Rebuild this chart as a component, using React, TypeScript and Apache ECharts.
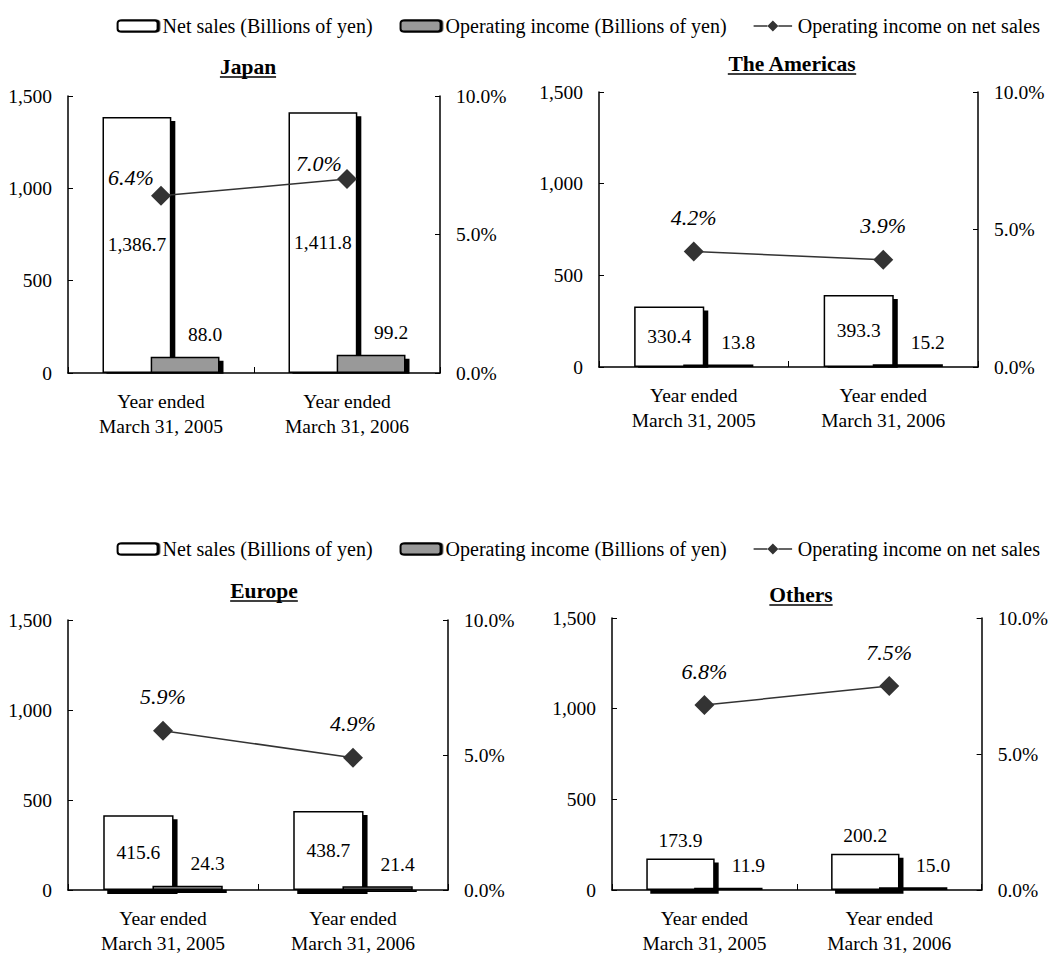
import React, { useEffect, useRef } from "react";
import * as echarts from "echarts";

// Fiscal years on the category axis
const categories = ["Year ended\nMarch 31, 2005", "Year ended\nMarch 31, 2006"];

// Segment figures (billions of yen) and operating margin (%)
const japanNetSales = [1386.7, 1411.8];
const japanOpIncome = [88.0, 99.2];
const japanMargin = [6.4, 7.0];

const americasNetSales = [330.4, 393.3];
const americasOpIncome = [13.8, 15.2];
const americasMargin = [4.2, 3.9];

const europeNetSales = [415.6, 438.7];
const europeOpIncome = [24.3, 21.4];
const europeMargin = [5.9, 4.9];

const othersNetSales = [173.9, 200.2];
const othersOpIncome = [11.9, 15.0];
const othersMargin = [6.8, 7.5];

// Axis ticks
const amountTicks = { min: 0, max: 1500, interval: 500 };
const marginTicks = { min: 0, max: 10, interval: 5 };

const NET_SALES = "Net sales (Billions of yen)";
const OP_INCOME = "Operating income (Billions of yen)";
const OP_MARGIN = "Operating income on net sales";

const panels = [
  { title: "Japan", net: japanNetSales, op: japanOpIncome, margin: japanMargin },
  { title: "The Americas", net: americasNetSales, op: americasOpIncome, margin: americasMargin },
  { title: "Europe", net: europeNetSales, op: europeOpIncome, margin: europeMargin },
  { title: "Others", net: othersNetSales, op: othersOpIncome, margin: othersMargin },
];

const FONT = "'Liberation Serif', 'Times New Roman', serif";
const FS = 19.5;

const layouts = [
  { left: 68, top: 96, width: 372, height: 277, tx: 248, ty: 66.5, netPos: "inside", marginOffsets: [[-30, 16], [-28, 18]] },
  { left: 599, top: 92, width: 379, height: 275, tx: 792, ty: 63.5, netPos: "inside", marginOffsets: [[0, 0], [0, 0]] },
  { left: 68, top: 620, width: 380, height: 274, tx: 264, ty: 590.5, netPos: "inside", marginOffsets: [[0, 0], [0, 0]] },
  { left: 612, top: 618, width: 371, height: 275, tx: 801, ty: 594.5, netPos: "top", marginOffsets: [[0, 0], [0, 0]] },
];

// Legend glyph for the margin series: a short line with a diamond in the middle
const LINE_DIAMOND_ICON =
  "path://M0,5.25L15,5.25L15,6.75L0,6.75Z M15,6L21,0L27,6L21,12Z M27,5.25L42,5.25L42,6.75L27,6.75Z";

const fmtAmount = (v: number) =>
  v.toLocaleString("en-US", { minimumFractionDigits: 1, maximumFractionDigits: 1 });

function measure(text: string, font: string): number {
  const ctx = document.createElement("canvas").getContext("2d");
  if (!ctx) return text.length * 11;
  ctx.font = font;
  return ctx.measureText(text).width;
}

export default function App() {
  const ref = useRef<HTMLDivElement>(null);

  useEffect(() => {
    document.body.style.margin = "0";
    if (!ref.current) return;
    const chart = echarts.init(ref.current, undefined, { renderer: "svg" });

    const axisLine = { show: true, lineStyle: { color: "#000", width: 1.5 } };
    const axisLabel = { color: "#000", fontFamily: FONT, fontSize: FS };
    const shadow = { shadowColor: "#000", shadowOffsetX: 4, shadowOffsetY: 4, shadowBlur: 0 };

    const grid: any[] = [];
    const xAxis: any[] = [];
    const yAxis: any[] = [];
    const series: any[] = [];
    const graphic: any[] = [];

    panels.forEach((p, i) => {
      const L = layouts[i];
      grid.push({ left: L.left, top: L.top, width: L.width, height: L.height, containLabel: false });
      xAxis.push({
        type: "category",
        gridIndex: i,
        z: 4,
        data: categories,
        axisLine,
        axisTick: { show: true, inside: true, length: 6, lineStyle: { color: "#000", width: 1 } },
        axisLabel: { ...axisLabel, margin: 16, lineHeight: 25 },
        splitLine: { show: false },
      });
      yAxis.push({
        type: "value",
        gridIndex: i,
        position: "left",
        z: 4,
        ...amountTicks,
        axisLine,
        axisTick: { show: true, inside: true, length: 5, lineStyle: { color: "#000", width: 1 } },
        axisLabel: { ...axisLabel, margin: 16, formatter: (v: number) => v.toLocaleString("en-US") },
        splitLine: { show: false },
      });
      yAxis.push({
        type: "value",
        gridIndex: i,
        position: "right",
        z: 4,
        ...marginTicks,
        axisLine,
        axisTick: { show: true, inside: true, length: 5, lineStyle: { color: "#000", width: 1 } },
        axisLabel: { ...axisLabel, margin: 16, formatter: (v: number) => v.toFixed(1) + "%" },
        splitLine: { show: false },
      });

      series.push({
        name: NET_SALES,
        type: "bar",
        xAxisIndex: i,
        yAxisIndex: i * 2,
        data: p.net,
        barWidth: "37%",
        barGap: "-30%",
        itemStyle: { color: "#fff", borderColor: "#000", borderWidth: 1.5, ...shadow },
        label: {
          show: true,
          position: L.netPos,
          distance: 8,
          color: "#000",
          fontFamily: FONT,
          fontSize: FS,
          formatter: (d: any) => fmtAmount(d.value),
        },
      });
      series.push({
        name: OP_INCOME,
        type: "bar",
        xAxisIndex: i,
        yAxisIndex: i * 2,
        data: p.op,
        barWidth: "37%",
        barGap: "-30%",
        itemStyle: { color: "#999", borderColor: "#000", borderWidth: 1.5, ...shadow },
        label: {
          show: true,
          position: "top",
          distance: 12,
          offset: [20, 0],
          color: "#000",
          fontFamily: FONT,
          fontSize: FS,
          formatter: (d: any) => fmtAmount(d.value),
        },
      });
      series.push({
        name: OP_MARGIN,
        type: "line",
        xAxisIndex: i,
        yAxisIndex: i * 2 + 1,
        data: p.margin.map((v, k) => ({ value: v, label: { offset: L.marginOffsets[k] } })),
        symbol: "diamond",
        symbolSize: 20,
        itemStyle: { color: "#333" },
        lineStyle: { color: "#333", width: 1.5 },
        z: 5,
        label: {
          show: true,
          position: "top",
          distance: 13,
          color: "#000",
          fontFamily: FONT,
          fontSize: 22,
          fontStyle: "italic",
          formatter: (d: any) => d.value.toFixed(1) + "%",
        },
      });

      // White strip just below the baseline so the bar shadows stop at the axis
      graphic.push({
        type: "rect",
        z: 3,
        shape: { x: L.left + 1, y: L.top + L.height + 0.8, width: L.width - 2, height: 6 },
        style: { fill: "#fff" },
        silent: true,
      });

      const titleFont = `bold 21.5px ${FONT}`;
      const w = measure(p.title, titleFont);
      graphic.push({
        type: "text",
        x: L.tx,
        y: L.ty,
        style: {
          text: p.title,
          fontFamily: FONT,
          fontSize: 21.5,
          fontWeight: "bold",
          fill: "#000",
          align: "center",
          verticalAlign: "middle",
        },
      });
      graphic.push({
        type: "line",
        shape: { x1: L.tx - w / 2, y1: L.ty + 10.5, x2: L.tx + w / 2, y2: L.ty + 10.5 },
        style: { stroke: "#000", lineWidth: 1.5 },
      });
    });

    const legendIconShadow = { shadowColor: "#000", shadowOffsetX: 1.5, shadowOffsetY: 0, shadowBlur: 0 };
    const legendBase = {
      right: 6,
      orient: "horizontal",
      itemWidth: 40,
      itemHeight: 11,
      itemGap: 27,
      textStyle: { color: "#000", fontFamily: FONT, fontSize: 20 },
      data: [
        { name: NET_SALES, itemStyle: legendIconShadow },
        { name: OP_INCOME, itemStyle: legendIconShadow },
        { name: OP_MARGIN, icon: LINE_DIAMOND_ICON, itemStyle: { color: "#333" } },
      ],
    };

    chart.setOption({
      animation: false,
      backgroundColor: "#fff",
      legend: [
        { ...legendBase, top: 11 },
        { ...legendBase, top: 534 },
      ],
      grid,
      xAxis,
      yAxis,
      series,
      graphic,
    });

    return () => chart.dispose();
  }, []);

  return <div ref={ref} style={{ width: 1051, height: 956 }} />;
}
